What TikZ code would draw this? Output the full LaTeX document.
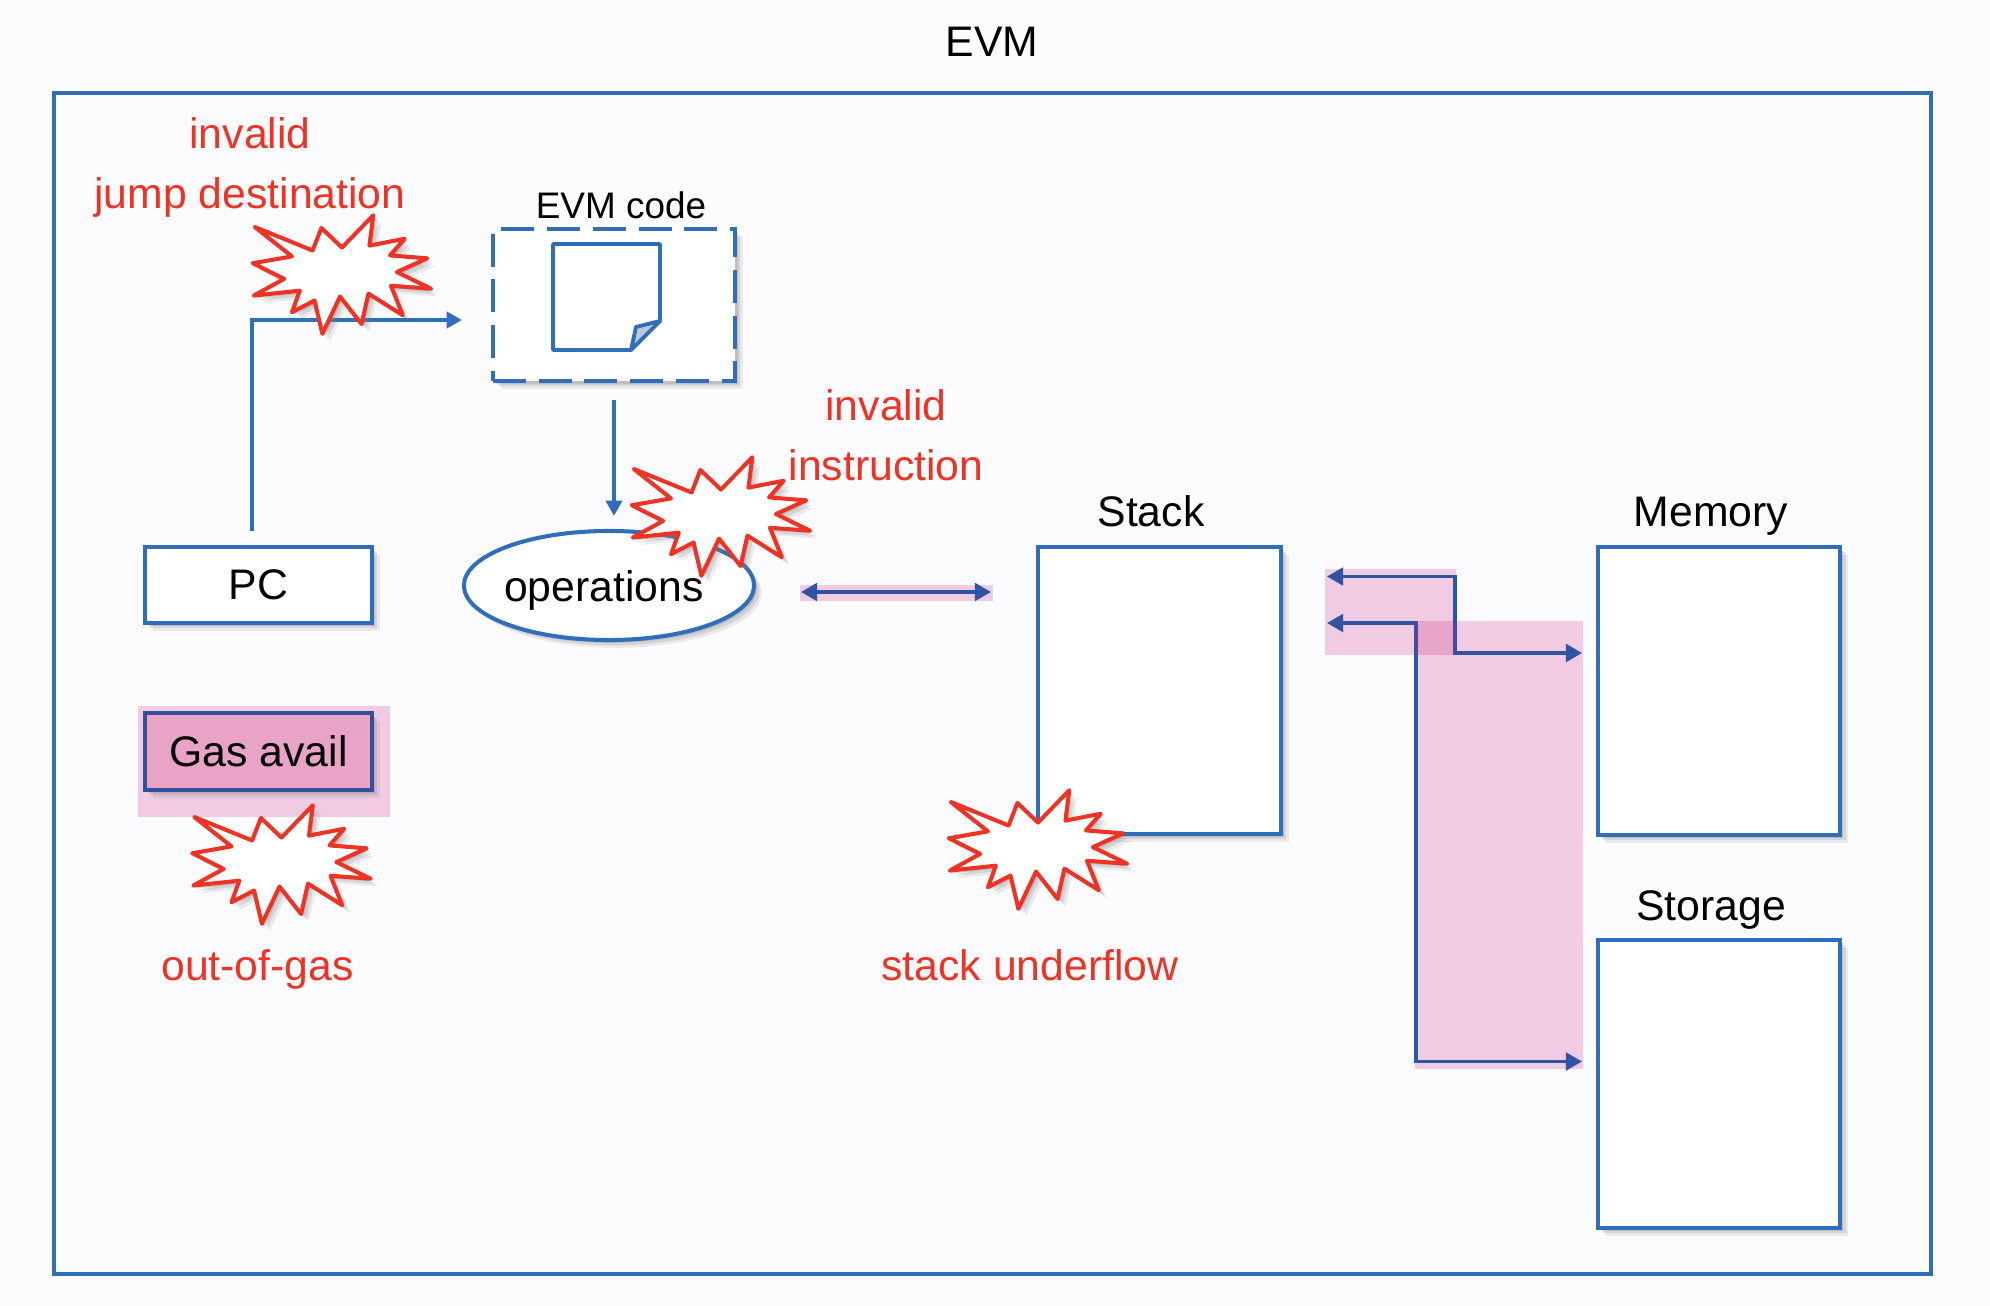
\documentclass[tikz,border=0pt]{standalone}
\usepackage{fontspec}
\setmainfont{Liberation Sans}
\usetikzlibrary{arrows.meta,shadows,shapes.geometric}
\definecolor{evmblue}{RGB}{47,110,186}
\definecolor{busblue}{RGB}{5,100,176}
\definecolor{gasedge}{RGB}{48,80,155}
\definecolor{evmred}{RGB}{238,50,36}
\definecolor{evmpink}{RGB}{200,30,125}
\definecolor{evmtint}{RGB}{252,252,255}
\definecolor{gasfill}{RGB}{232,163,198}
\definecolor{foldfill}{RGB}{190,200,215}
\tikzset{
softshadow/.style={
drop shadow={shadow xshift=2.2pt,shadow yshift=-2.2pt,opacity=.14},
drop shadow={shadow xshift=1.5pt,shadow yshift=-1.5pt,opacity=.2},
drop shadow={shadow xshift=.8pt,shadow yshift=-.8pt,opacity=.25}},
lbl/.style={text=black,font=\fontsize{12.15}{14}\selectfont},
smalllbl/.style={text=black,font=\fontsize{10.5}{12}\selectfont},
errlbl/.style={text=evmred,font=\fontsize{12.15}{14}\selectfont},
box/.style={draw=evmblue,line width=1.15pt,fill=white,softshadow,minimum width=#1,inner sep=0pt},
flow/.style={draw=evmblue,line width=1.1pt,-{Triangle[length=4.4pt,width=4.6pt]}},
flowboth/.style={draw=busblue,line width=1.05pt,{Triangle[length=4.6pt,width=5pt]}-{Triangle[length=4.6pt,width=5pt]}},
pinkwash/.style={fill=evmpink,opacity=.22},
burst/.pic={
\draw[draw=evmred,line width=1.15pt,line join=round,fill=white,softshadow] (-88,-49) -- (-29,-25) -- (-20,-48) -- (1,-28) -- (33,-61) -- (29,-30) -- (65,-37) -- (50,-20) -- (88,-17) -- (57,-3) -- (92,14) -- (51,11) -- (63,41) -- (28,19) -- (21,50) -- (-1,22) -- (-19,60) -- (-27,26) -- (-50,38) -- (-42,16) -- (-89,21) -- (-58,4) -- (-90,-12) -- (-50,-19) -- cycle;
}
}
\begin{document}
\begin{tikzpicture}[x=0.01cm,y=-0.01cm]
\useasboundingbox (0,0) rectangle (1990,1306);
\fill[evmtint] (0,0) rectangle (1990,1306);
\node[draw=evmblue,line width=1.15pt,minimum width=18.75cm,minimum height=11.81cm,inner sep=0pt] (evm) at (992.5,683.5) {};
\node[lbl] (evmtitle) at (992,42) {EVM};
% left column
\node[box=2.27cm,minimum height=0.76cm,lbl] (pc) at (258.5,585) {PC};
\coordinate (pcout) at (252,531);
\coordinate (codein) at (462,320);
\draw[flow] (pcout) |- (codein);
% code box and page
\node[box=2.42cm,minimum height=1.515cm,dash pattern=on 9.4pt off 3.6pt] (code) at (614,305.2) {};
\node[smalllbl] (codelabel) at (621,205) {EVM code};
\draw[draw=evmblue,line width=1.1pt,line join=round,fill=white] (553,244) -- (660,244) -- (660,321) -- (631,350) -- (553,350) -- cycle;
\draw[draw=evmblue,line width=1.1pt,line join=round,fill=foldfill] (660,321) -- (636,327) -- (631,350) -- cycle;
\coordinate (codeout) at (614,400);
\coordinate (opsin) at (614,516);
\draw[flow] (codeout) -- (opsin);
% operations
\node[draw=evmblue,line width=1.15pt,fill=white,softshadow,ellipse,minimum width=2.9cm,minimum height=1.09cm,inner sep=0pt] (ops) at (609,585.5) {};
% stack and stores
\node[box=2.43cm,minimum height=2.87cm] (stack) at (1159.5,690.5) {};
\node[box=2.425cm,minimum height=2.88cm] (memory) at (1719,691) {};
\node[box=2.425cm,minimum height=2.88cm] (storage) at (1719,1084) {};
\node[lbl] (stacklabel) at (1151,511) {Stack};
\node[lbl] (memorylabel) at (1711,516) {Memory};
\node[lbl] (storagelabel) at (1711,910) {Storage};
% buses
\coordinate (opsport) at (801,592);
\coordinate (stackport) at (991,592);
\draw[flowboth] (opsport) -- (stackport);
\coordinate (stacktop) at (1327,576.5);
\coordinate (topbenda) at (1455,576.5);
\coordinate (topbendb) at (1455,653);
\coordinate (memin) at (1582,653);
\draw[flowboth] (stacktop) -- (topbenda) -- (topbendb) -- (memin);
\coordinate (stacklow) at (1327,623);
\coordinate (lowbenda) at (1416,623);
\coordinate (lowbendb) at (1416,1061.5);
\coordinate (storin) at (1582,1061.5);
\draw[flowboth] (stacklow) -- (lowbenda) -- (lowbendb) -- (storin);
% highlights
\fill[pinkwash] (137.5,706) rectangle (390,817);
\fill[pinkwash] (800,584.5) rectangle (992.5,600.5);
\fill[pinkwash] (1325,569) rectangle (1456,655);
\fill[pinkwash] (1415,620.5) rectangle (1582.5,1069);
\node[box=2.27cm,minimum height=0.77cm,lbl,draw=gasedge,fill=gasfill] (gas) at (258.5,751.5) {Gas avail};
% faults
\pic[scale=.98] at (341,275) {burst};
\pic[scale=.98] at (720,517) {burst};
\pic[scale=.98] at (280.5,865) {burst};
\pic[scale=.98] at (1037,850) {burst};
\node[lbl] (opslabel) at (604,590) {operations};
\node[errlbl] (jumpa) at (250,133) {invalid};
\node[errlbl] (jumpb) at (250,197) {jump destination};
\node[errlbl] (insta) at (886,405) {invalid};
\node[errlbl] (instb) at (886,465) {instruction};
\node[errlbl] (gaserr) at (257.5,969) {out-of-gas};
\node[errlbl] (stackerr) at (1030,965) {stack underflow};
\end{tikzpicture}
\end{document}
